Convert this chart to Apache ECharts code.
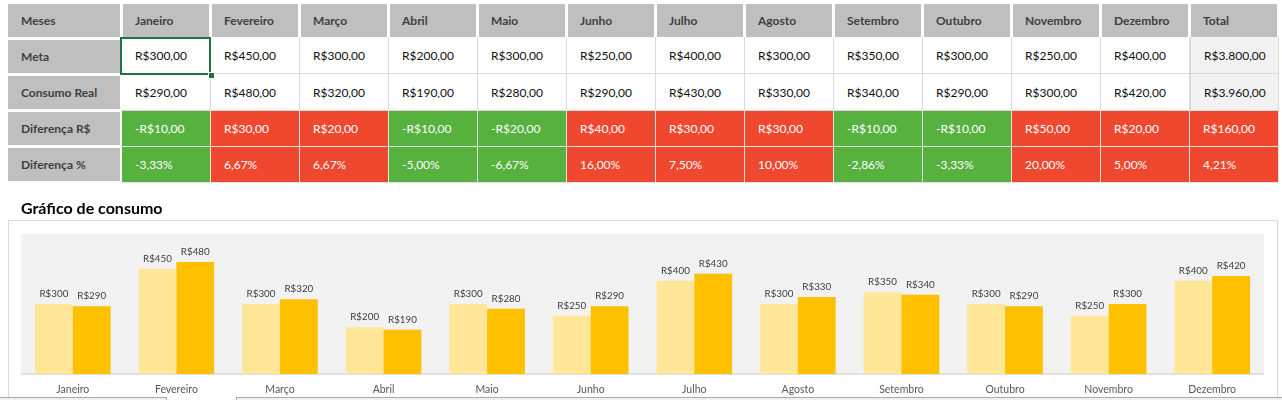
<!DOCTYPE html>
<html><head><meta charset="utf-8">
<script src="https://cdn.jsdelivr.net/npm/echarts@6/dist/echarts.min.js"></script>
<style>
html,body{margin:0;padding:0}
body{width:1282px;height:400px;overflow:hidden;background:#fff;position:relative;font-family:Lato,'Liberation Sans',sans-serif}
.c{position:absolute;box-sizing:border-box;font-size:12px;display:flex;align-items:center;white-space:nowrap;overflow:hidden}
#chart{position:absolute;left:0;top:0;width:1282px;height:400px;z-index:2}
#frame{position:absolute;left:8px;top:220px;width:1270px;height:200px;border:1px solid #D9D9D9;box-sizing:border-box;z-index:1}
#title{position:absolute;left:21px;top:198px;font-size:16px;font-weight:bold;color:#000;z-index:3}
.sb{position:absolute;top:397px;height:10px;background:#F0F0F0;box-sizing:border-box;border-top:1px solid #ABABAB;z-index:4}
</style></head>
<body>
<div id="frame"></div>
<div id="title"></div>
<div id="chart"></div>
<div id="table"></div>
<div class="sb" style="left:0;width:167px;border-right:1px solid #ABABAB"></div>
<div class="sb" style="left:236px;width:1050px;border-left:1px solid #ABABAB"></div>
<script>
// ---- data ----
const months = ['Janeiro','Fevereiro','Março','Abril','Maio','Junho','Julho','Agosto','Setembro','Outubro','Novembro','Dezembro'];
const rowLabels = ['Meses','Meta','Consumo Real','Diferença R$','Diferença %'];
const totalLabel = 'Total';
const meta = [300,450,300,200,300,250,400,300,350,300,250,400];
const real = [290,480,320,190,280,290,430,330,340,290,300,420];
const metaTotal = 3800;
const realTotal = 3960;
const diffR = [-10,30,20,-10,-20,40,30,30,-10,-10,50,20];
const diffRTotal = 160;
const diffPct = [-3.33,6.67,6.67,-5.00,-6.67,16.00,7.50,10.00,-2.86,-3.33,20.00,5.00];
const diffPctTotal = 4.21;
const seriesNames = ['Meta','Consumo Real'];
const chartTitle = 'Gráfico de consumo';

document.getElementById('title').textContent = chartTitle;

// ---- formatting ----
function money(v){
  const neg = v<0; v=Math.abs(v);
  let [i,d] = v.toFixed(2).split('.');
  i = i.replace(/\B(?=(\d{3})+(?!\d))/g,'.');
  return (neg?'-':'')+'R$'+i+','+d;
}
function pct(v){ return v.toFixed(2).replace('.',',')+'%'; }

// ---- table ----
const T = document.getElementById('table');
function cell(x,y,w,h,text,st){
  const d=document.createElement('div');
  d.className='c';
  d.style.left=x+'px';d.style.top=y+'px';d.style.width=w+'px';d.style.height=h+'px';
  Object.assign(d.style,st||{});
  d.textContent=text;
  T.appendChild(d);
  return d;
}
const GRAY='#BFBFBF', RED='#F0472F', GREEN='#57B13F', HEAD='#404040';
rowLabels.forEach((l,r)=>{
  cell(8,4+36*r,112,33,l,{background:GRAY,color:HEAD,fontWeight:'bold',paddingLeft:'13px'});
});
const heads = months.concat([totalLabel]);
heads.forEach((m,c)=>{
  cell(123+89*c,4,86,33,m,{background:GRAY,color:HEAD,fontWeight:'bold',paddingLeft:'12px'});
});
const metaRow = meta.concat([metaTotal]), realRow = real.concat([realTotal]);
[metaRow,realRow].forEach((row,ri)=>{
  row.forEach((v,c)=>{
    cell(122+89*c,37+37*ri,89,37,money(v),{
      background:c===12?'#F2F2F2':'#fff',color:'#111',paddingLeft:'13px',
      borderRight:'1px solid #DADADA',borderBottom:'1px solid #DADADA',
      borderLeft:c===12?'1px solid #DADADA':'none'});
  });
});
const dR = diffR.concat([diffRTotal]), dP = diffPct.concat([diffPctTotal]);
dR.forEach((v,c)=>{
  cell(122+89*c,111,89,36,money(v),{background:v<0?GREEN:RED,color:'#fff',paddingLeft:'13px',
    borderRight:'1px solid #E4E4E4',borderBottom:'1px solid #E4E4E4'});
});
dP.forEach((v,c)=>{
  cell(122+89*c,147,89,36,pct(v),{background:v<0?GREEN:RED,color:'#fff',paddingLeft:'13px',
    borderRight:'1px solid #E4E4E4',borderBottom:'1px solid #E4E4E4'});
});
const sel=document.createElement('div');
Object.assign(sel.style,{position:'absolute',left:'120px',top:'37px',width:'91px',height:'38px',border:'2px solid #217346',boxSizing:'border-box'});
T.appendChild(sel);
const hd=document.createElement('div');
Object.assign(hd.style,{position:'absolute',left:'208px',top:'72px',width:'5px',height:'5px',background:'#217346',border:'1px solid #fff'});
T.appendChild(hd);

// ---- chart ----
const chart = echarts.init(document.getElementById('chart'),null,{renderer:'canvas'});
const lbl = {show:true,position:'top',distance:5,color:'#404040',fontSize:9.8,fontFamily:'Lato',
  formatter:p=>'R$'+p.value};
chart.setOption({
  animation:false,
  backgroundColor:'transparent',
  grid:{left:21,right:18,top:234,bottom:26,show:true,backgroundColor:'#F2F2F2',borderWidth:0},
  xAxis:{type:'category',data:months,
    axisTick:{show:false},
    axisLine:{lineStyle:{color:'#D9D9D9',width:1.5}},
    axisLabel:{interval:0,color:'#595959',fontSize:10.5,fontFamily:'Lato',margin:10}},
  yAxis:{type:'value',min:0,max:600,show:false,splitLine:{show:false}},
  series:[
    {name:seriesNames[0],type:'bar',data:meta,itemStyle:{color:'#FFE699'},barGap:'0%',barCategoryGap:'27%',label:lbl},
    {name:seriesNames[1],type:'bar',data:real,itemStyle:{color:'#FFC000'},barGap:'0%',barCategoryGap:'27%',label:lbl}
  ]
});
</script>
</body></html>
